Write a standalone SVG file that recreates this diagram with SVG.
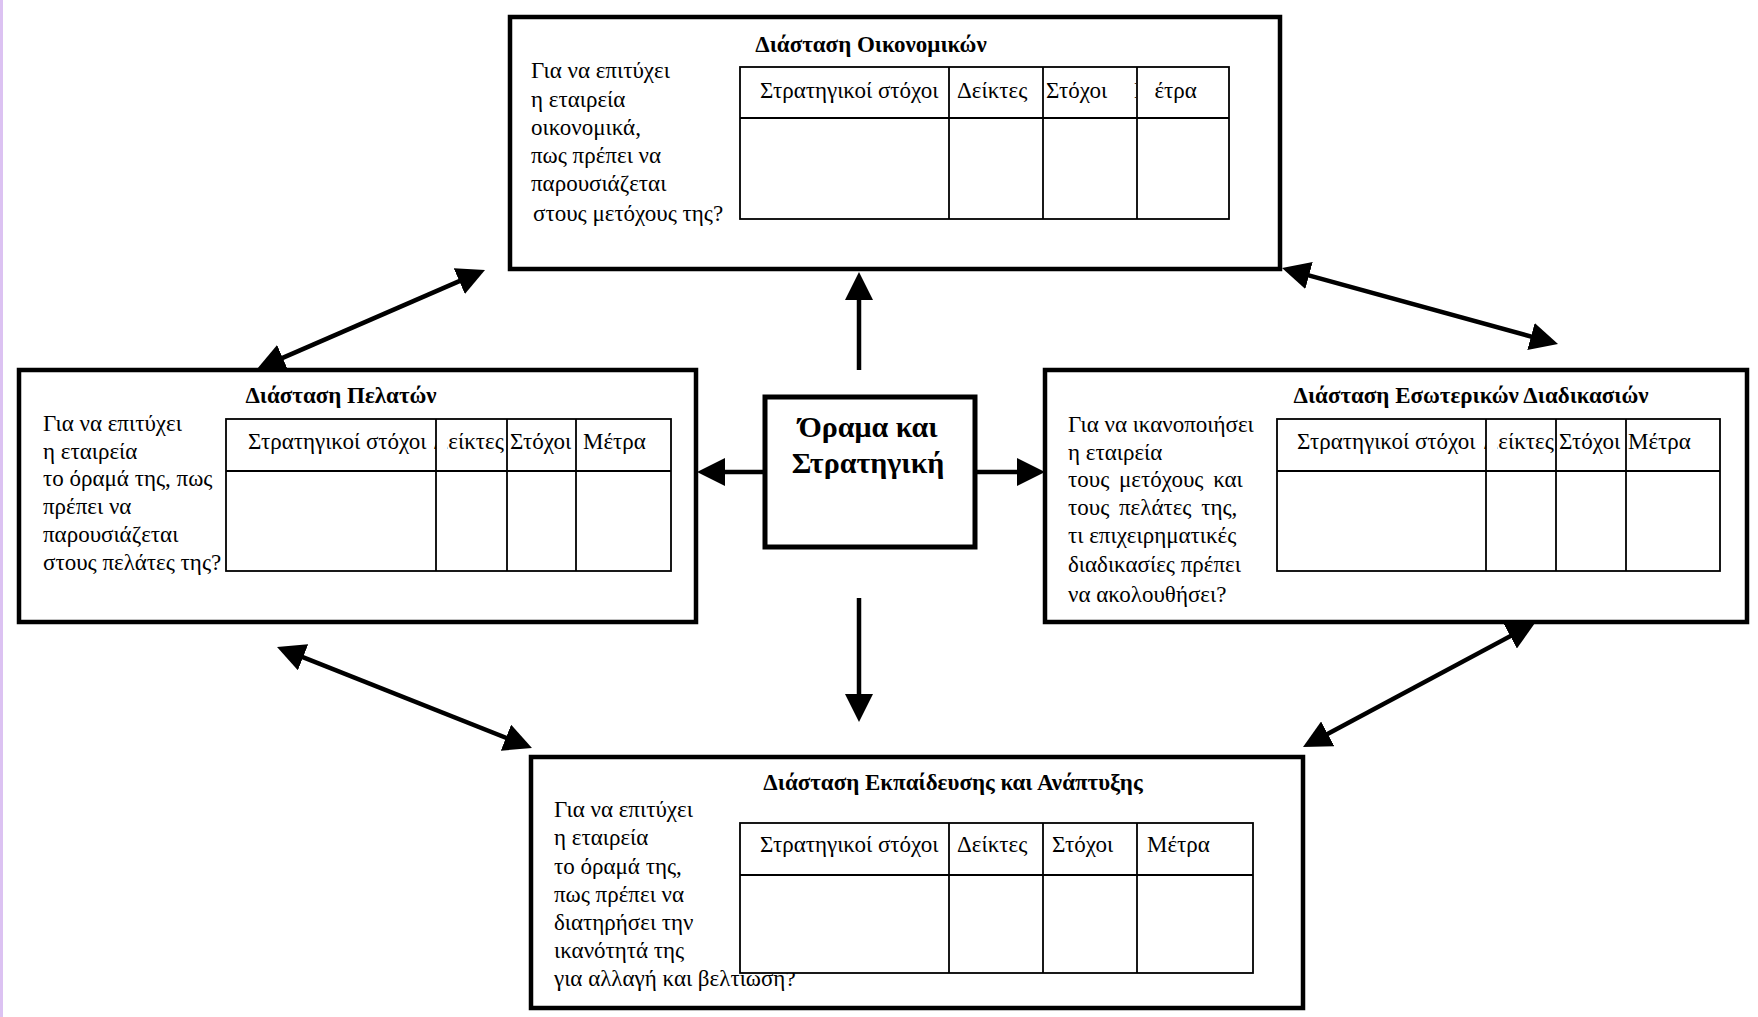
<svg xmlns="http://www.w3.org/2000/svg" width="1758" height="1017" viewBox="0 0 1758 1017">
<style>
.box{fill:#fff;stroke:#000;stroke-width:4.5}
.cbox{fill:#fff;stroke:#000;stroke-width:5}
.tbl{fill:#fff;stroke:#000;stroke-width:1.8}
.tl{stroke:#000;stroke-width:1.8}
.t{font-family:"Liberation Serif","Times New Roman",serif;font-size:23px;fill:#000}
.h{font-size:23px;font-weight:bold;text-anchor:middle}
.c{font-family:"Liberation Serif","Times New Roman",serif;font-size:30px;font-weight:bold;text-anchor:middle;fill:#000}
.conn line{stroke:#000;stroke-width:4.5;fill:none}
.one{marker-end:url(#ah)}
.two{marker-start:url(#ah);marker-end:url(#ah)}
</style>
<defs>
<marker id="ah" viewBox="0 0 28 28" refX="22" refY="14" markerWidth="28" markerHeight="28" markerUnits="userSpaceOnUse" orient="auto-start-reverse">
<path d="M0,0 L28,14 L0,28 z" fill="#000"/>
</marker>
<clipPath id="clipTopM"><rect x="1128" y="67" width="8" height="52"/><rect x="1154.5" y="67" width="75" height="52"/></clipPath>
<clipPath id="clipLeftD"><rect x="425" y="419" width="11" height="52"/><rect x="447.5" y="419" width="60" height="52"/></clipPath>
<clipPath id="clipRightD"><rect x="1475" y="419" width="11" height="52"/><rect x="1497.5" y="419" width="59" height="52"/></clipPath>
</defs>
<rect x="0" y="0" width="3" height="1017" fill="#dcc2f2"/>

<g id="financial">
<rect class="box" x="510" y="17" width="770" height="252"/>
<text class="t h" x="871" y="52">Διάσταση Οικονομικών</text>
<text class="t" x="531" y="78">Για να επιτύχει</text>
<text class="t" x="531" y="107">η εταιρεία</text>
<text class="t" x="531" y="135">οικονομικά,</text>
<text class="t" x="531" y="163">πως πρέπει να</text>
<text class="t" x="531" y="191">παρουσιάζεται</text>
<text class="t" x="533" y="221">στους μετόχους της?</text>
<rect class="tbl" x="740" y="67" width="489" height="152"/>
<line class="tl" x1="740" y1="118" x2="1229" y2="118"/>
<line class="tl" x1="949" y1="67" x2="949" y2="219"/>
<line class="tl" x1="1043" y1="67" x2="1043" y2="219"/>
<line class="tl" x1="1137" y1="67" x2="1137" y2="219"/>
<text class="t" x="760" y="98">Στρατηγικοί στόχοι</text>
<text class="t" x="957" y="98">Δείκτες</text>
<text class="t" x="1046" y="98">Στόχοι</text>
<text class="t" x="1134" y="98" clip-path="url(#clipTopM)">Μέτρα</text>
</g>

<g id="customers">
<rect class="box" x="19" y="370" width="677" height="252"/>
<text class="t h" x="341" y="403">Διάσταση Πελατών</text>
<text class="t" x="43" y="431">Για να επιτύχει</text>
<text class="t" x="43" y="459">η εταιρεία</text>
<text class="t" x="43" y="486">το όραμά της, πως</text>
<text class="t" x="43" y="514">πρέπει να</text>
<text class="t" x="43" y="542">παρουσιάζεται</text>
<text class="t" x="43" y="570">στους πελάτες της?</text>
<rect class="tbl" x="226" y="419" width="445" height="152"/>
<line class="tl" x1="226" y1="471" x2="671" y2="471"/>
<line class="tl" x1="436" y1="419" x2="436" y2="571"/>
<line class="tl" x1="507" y1="419" x2="507" y2="571"/>
<line class="tl" x1="576" y1="419" x2="576" y2="571"/>
<text class="t" x="248" y="449">Στρατηγικοί στόχοι</text>
<text class="t" x="433.5" y="449" clip-path="url(#clipLeftD)">Δείκτες</text>
<text class="t" x="510" y="449">Στόχοι</text>
<text class="t" x="583" y="449">Μέτρα</text>
</g>

<g id="internal">
<rect class="box" x="1045" y="370" width="702" height="252"/>
<text class="t h" x="1471" y="403">Διάσταση Εσωτερικών Διαδικασιών</text>
<text class="t" x="1068" y="432">Για να ικανοποιήσει</text>
<text class="t" x="1068" y="460">η εταιρεία</text>
<text class="t" x="1068" y="487" word-spacing="4">τους μετόχους και</text>
<text class="t" x="1068" y="515" word-spacing="4">τους πελάτες της,</text>
<text class="t" x="1068" y="543">τι επιχειρηματικές</text>
<text class="t" x="1068" y="572">διαδικασίες πρέπει</text>
<text class="t" x="1068" y="602">να ακολουθήσει?</text>
<rect class="tbl" x="1277" y="419" width="443" height="152"/>
<line class="tl" x1="1277" y1="471" x2="1720" y2="471"/>
<line class="tl" x1="1486" y1="419" x2="1486" y2="571"/>
<line class="tl" x1="1556" y1="419" x2="1556" y2="571"/>
<line class="tl" x1="1626" y1="419" x2="1626" y2="571"/>
<text class="t" x="1297" y="449">Στρατηγικοί στόχοι</text>
<text class="t" x="1483.5" y="449" clip-path="url(#clipRightD)">Δείκτες</text>
<text class="t" x="1559" y="449">Στόχοι</text>
<text class="t" x="1628" y="449">Μέτρα</text>
</g>

<g id="learning">
<rect class="box" x="531" y="757" width="772" height="251"/>
<text class="t h" x="953" y="790">Διάσταση Εκπαίδευσης και Ανάπτυξης</text>
<text class="t" x="554" y="817">Για να επιτύχει</text>
<text class="t" x="554" y="845">η εταιρεία</text>
<text class="t" x="554" y="874">το όραμά της,</text>
<text class="t" x="554" y="902">πως πρέπει να</text>
<text class="t" x="554" y="930">διατηρήσει την</text>
<text class="t" x="554" y="958">ικανότητά της</text>
<text class="t" x="554" y="986">για αλλαγή και βελτίωση?</text>
<rect class="tbl" x="740" y="823" width="513" height="150"/>
<line class="tl" x1="740" y1="875" x2="1253" y2="875"/>
<line class="tl" x1="949" y1="823" x2="949" y2="973"/>
<line class="tl" x1="1043" y1="823" x2="1043" y2="973"/>
<line class="tl" x1="1137" y1="823" x2="1137" y2="973"/>
<text class="t" x="760" y="852">Στρατηγικοί στόχοι</text>
<text class="t" x="957" y="852">Δείκτες</text>
<text class="t" x="1052" y="852">Στόχοι</text>
<text class="t" x="1147" y="852">Μέτρα</text>
</g>

<g id="vision">
<rect class="cbox" x="765" y="397" width="210" height="150"/>
<text class="c" x="868" y="437">Όραμα και</text>
<text class="c" x="868" y="473">Στρατηγική</text>
</g>

<g id="connectors" class="conn">
<line class="one" x1="859" y1="370" x2="859" y2="278"/>
<line class="one" x1="859" y1="598" x2="859" y2="716"/>
<line class="one" x1="765" y1="472" x2="703" y2="472"/>
<line class="one" x1="975" y1="472" x2="1039" y2="472"/>
<line class="two" x1="262.5" y1="366.6" x2="479.5" y2="272.4"/>
<line class="two" x1="1287.8" y1="269.6" x2="1552.2" y2="342.4"/>
<line class="two" x1="282.6" y1="649.2" x2="526.4" y2="745.8"/>
<line class="two" x1="1529.7" y1="625.8" x2="1308.3" y2="744.2"/>
</g>
</svg>
